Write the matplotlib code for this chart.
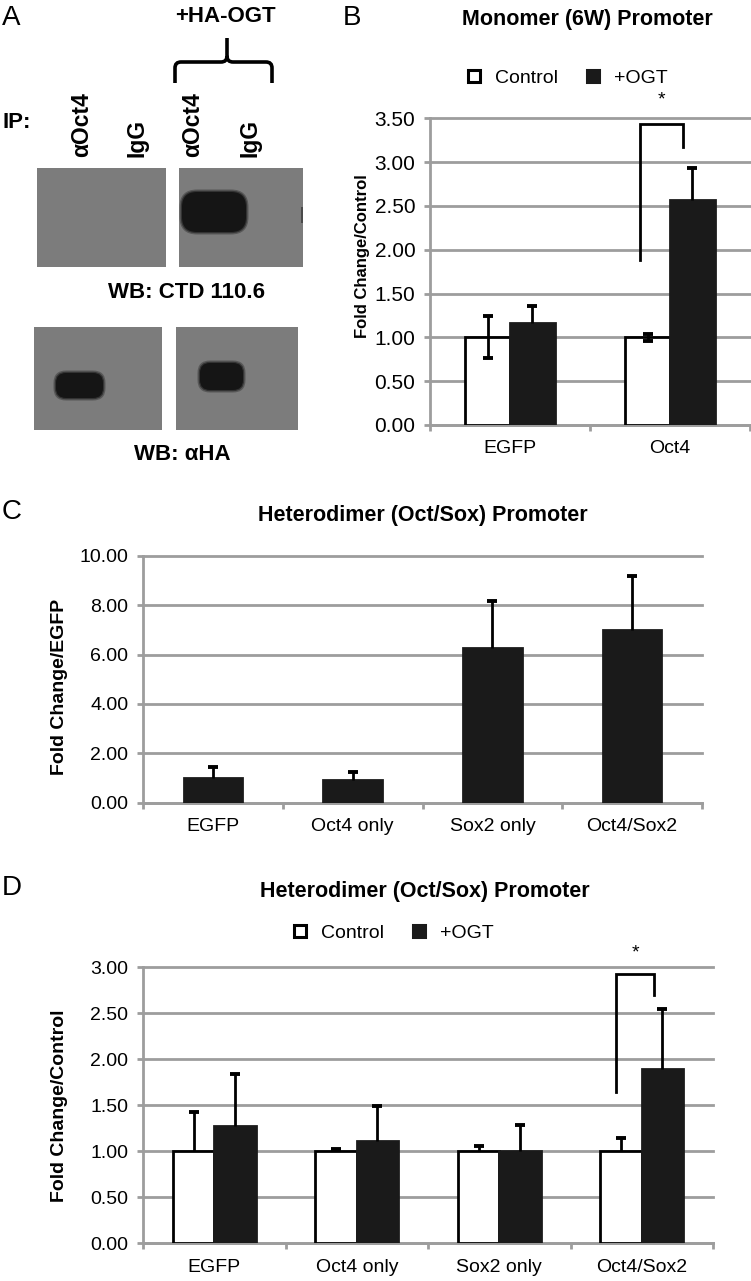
import matplotlib
matplotlib.use('Agg')
import matplotlib.pyplot as plt
import numpy as np
from matplotlib.patches import Rectangle, FancyBboxPatch, PathPatch
from matplotlib.path import Path
from matplotlib.lines import Line2D
from matplotlib.ticker import FormatStrFormatter

plt.rcParams['font.family'] = ['Liberation Sans', 'DejaVu Sans']

# Panel B: Monomer (6W) promoter
b_categories = ['EGFP', 'Oct4']
b_control = [1.00, 1.00]
b_control_err = [0.24, 0.04]
b_ogt = [1.16, 2.57]
b_ogt_err = [0.20, 0.36]

# Panel C: Heterodimer promoter, fold change over EGFP
c_categories = ['EGFP', 'Oct4 only', 'Sox2 only', 'Oct4/Sox2']
c_values = [1.00, 0.93, 6.26, 6.99]
c_err = [0.46, 0.30, 1.91, 2.20]

# Panel D: Heterodimer promoter, control vs +OGT
d_categories = ['EGFP', 'Oct4 only', 'Sox2 only', 'Oct4/Sox2']
d_control = [1.00, 1.00, 1.00, 1.00]
d_control_err = [0.43, 0.02, 0.06, 0.14]
d_ogt = [1.28, 1.11, 1.00, 1.90]
d_ogt_err = [0.56, 0.38, 0.29, 0.65]

W, H = 751, 1281
GRAY = '#9d9d9d'
DARK = '#1a1a1a'

fig = plt.figure(figsize=(W / 100, H / 100), dpi=100)


def px_rect(l, t, r, b):
    return [l / W, 1 - b / H, (r - l) / W, (b - t) / H]


def fx(x):
    return x / W


def fy(y):
    return 1 - y / H


def style_axes(ax, cats, ymax, ystep, tick_fs):
    n = len(cats)
    ax.set_xlim(-0.5, n - 0.5)
    ax.set_ylim(0, ymax)
    ax.set_yticks(np.arange(0, ymax + 1e-9, ystep))
    ax.yaxis.set_major_formatter(FormatStrFormatter('%.2f'))
    ax.set_xticks(range(n))
    ax.set_xticklabels(cats, fontsize=14)
    ax.set_xticks(np.arange(-0.5, n), minor=True)
    ax.tick_params(axis='x', which='major', length=0, pad=11)
    ax.tick_params(axis='x', which='minor', length=4, width=2, color=GRAY, direction='out')
    ax.tick_params(axis='y', length=4.5, width=2, color=GRAY, pad=6, labelsize=tick_fs)
    for s in ['top', 'right']:
        ax.spines[s].set_visible(False)
    for s in ['left', 'bottom']:
        ax.spines[s].set_color(GRAY)
        ax.spines[s].set_linewidth(2)
    ax.yaxis.grid(True, color=GRAY, lw=2)
    ax.set_axisbelow(True)
    for gl in ax.get_ygridlines():
        gl.set_clip_on(False)


def err_bars(ax, x, y, err, down):
    # vertical whisker plus caps; lower half only where it shows
    x = np.asarray(x, dtype=float)
    y = np.asarray(y, dtype=float)
    err = np.asarray(err, dtype=float)
    lo = y - err if down else y
    ax.vlines(x, lo, y + err, colors='black', lw=2, zorder=4)
    ax.plot(x, y + err, ls='none', marker='_', markersize=7, mew=2.8, color='black', zorder=4)
    if down:
        ax.plot(x, y - err, ls='none', marker='_', markersize=7, mew=2.8, color='black',
                zorder=4)


def paired_bars(ax, control, control_err, ogt, ogt_err, w, control_down):
    x = np.arange(len(control))
    ax.bar(x - w / 2, control, w, color='white', edgecolor='black', lw=2, zorder=3)
    ax.bar(x + w / 2, ogt, w, color=DARK, edgecolor=DARK, lw=2, zorder=3)
    err_bars(ax, x - w / 2, control, control_err, control_down)
    err_bars(ax, x + w / 2, ogt, ogt_err, False)


def legend_handles():
    return [Line2D([], [], marker='s', ls='none', markersize=9, markerfacecolor='white',
                   markeredgecolor='black', markeredgewidth=2.2, label='Control'),
            Line2D([], [], marker='s', ls='none', markersize=9, markerfacecolor=DARK,
                   markeredgecolor=DARK, markeredgewidth=2.2, label='+OGT')]


def bracket(ax, xl, xr, ytop, yl, yr, star_y):
    ax.plot([xl, xl, xr, xr], [yl, ytop, ytop, yr], color='black', lw=2,
            clip_on=False, zorder=5, solid_joinstyle='miter')
    ax.text((xl + xr) / 2, star_y, '*', ha='center', va='center', fontsize=14,
            clip_on=False)


# ---------- Panel A: blots ----------
ax_a = fig.add_axes(px_rect(0, 0, 340, 480))
ax_a.set_xlim(0, 340)
ax_a.set_ylim(480, 0)
ax_a.axis('off')

blot_gray = '#7c7c7c'
for (x0, y0, x1, y1) in [(37, 168, 166, 267), (179, 168, 303, 267),
                         (34, 327, 162, 430), (176, 327, 298, 430)]:
    ax_a.add_patch(Rectangle((x0, y0), x1 - x0, y1 - y0, facecolor=blot_gray,
                             edgecolor='none'))


def band(x0, y0, x1, y1, r):
    for grow, a in [(2.5, 0.35), (1.2, 0.55), (0, 1.0)]:
        ax_a.add_patch(FancyBboxPatch((x0 - grow, y0 - grow), x1 - x0 + 2 * grow,
                                      y1 - y0 + 2 * grow,
                                      boxstyle='round,pad=0,rounding_size=%g' % (r + grow),
                                      facecolor='#151515', edgecolor='none', alpha=a))


band(182, 192, 246, 232, 15)
band(56, 373, 103, 398, 10)
band(200, 363, 243, 390, 10)
ax_a.add_patch(Rectangle((301, 207), 2, 16, facecolor='#2a2a2a', edgecolor='none', alpha=0.6))

# brace above the +HA-OGT lanes
verts = [(175, 83), (175, 68), (175, 62), (181, 62), (221, 62), (227, 62), (227, 56),
         (227, 38), (227, 56), (227, 62), (233, 62), (266, 62), (272, 62), (272, 68), (272, 83)]
codes = [Path.MOVETO, Path.LINETO, Path.CURVE3, Path.CURVE3, Path.LINETO, Path.CURVE3,
         Path.CURVE3, Path.LINETO, Path.MOVETO, Path.CURVE3, Path.CURVE3, Path.LINETO,
         Path.CURVE3, Path.CURVE3, Path.LINETO]
ax_a.add_patch(PathPatch(Path(verts, codes), facecolor='none', edgecolor='black', lw=2.6))

ax_a.text(225, 16, '+HA-OGT', ha='center', va='center', fontsize=16, fontweight='bold')
ax_a.text(2, 123, 'IP:', ha='left', va='center', fontsize=16, fontweight='bold')
for xc, lab in [(82, 'αOct4'), (137, 'IgG'), (193, 'αOct4'), (250, 'IgG')]:
    ax_a.text(xc, 157, lab, rotation=90, ha='center', va='bottom', fontsize=16.5,
              fontweight='bold')
ax_a.text(187, 292, 'WB: CTD 110.6', ha='center', va='center', fontsize=16, fontweight='bold')
ax_a.text(182, 455, 'WB: αHA', ha='center', va='center', fontsize=16, fontweight='bold')

# panel letters
for x, y, s in [(2, 18, 'A'), (343, 18, 'B'), (2, 512, 'C'), (2, 888, 'D')]:
    fig.text(fx(x), fy(y), s, ha='left', va='center', fontsize=20)

# ---------- Panel B ----------
ax_b = fig.add_axes(px_rect(430, 118.3, 750, 425))
style_axes(ax_b, b_categories, 3.5, 0.5, 15)
paired_bars(ax_b, b_control, b_control_err, b_ogt, b_ogt_err, 0.28, True)
bracket(ax_b, 0.81, 1.08, 3.43, 1.88, 3.17, 3.71)
fig.text(fx(587), fy(20), 'Monomer (6W) Promoter', ha='center', va='center',
         fontsize=15.5, fontweight='bold')
fig.text(fx(362), fy(256), 'Fold Change/Control', rotation=90, ha='center', va='center',
         fontsize=12, fontweight='bold')
ax_b.legend(handles=legend_handles(), loc='center', bbox_to_anchor=(fx(566), fy(78)),
            bbox_transform=fig.transFigure, ncol=2, frameon=False, fontsize=14,
            handlelength=1.0, handletextpad=0.6, columnspacing=1.3)

# ---------- Panel C ----------
ax_c = fig.add_axes(px_rect(143, 555.7, 702, 802.7))
style_axes(ax_c, c_categories, 10, 2, 14)
xc = np.arange(len(c_values))
ax_c.bar(xc, c_values, 0.42, color=DARK, edgecolor=DARK, lw=2, zorder=3)
err_bars(ax_c, xc, c_values, c_err, False)
fig.text(fx(423), fy(515), 'Heterodimer (Oct/Sox) Promoter', ha='center', va='center',
         fontsize=15.5, fontweight='bold')
fig.text(fx(60), fy(687), 'Fold Change/EGFP', rotation=90, ha='center', va='center',
         fontsize=14, fontweight='bold')

# ---------- Panel D ----------
ax_d = fig.add_axes(px_rect(143, 967.3, 713, 1243.3))
style_axes(ax_d, d_categories, 3.0, 0.5, 14)
paired_bars(ax_d, d_control, d_control_err, d_ogt, d_ogt_err, 0.29, False)
bracket(ax_d, 2.82, 3.086, 2.93, 1.64, 2.70, 3.16)
fig.text(fx(425), fy(892), 'Heterodimer (Oct/Sox) Promoter', ha='center', va='center',
         fontsize=15.5, fontweight='bold')
fig.text(fx(60), fy(1106), 'Fold Change/Control', rotation=90, ha='center', va='center',
         fontsize=14, fontweight='bold')
ax_d.legend(handles=legend_handles(), loc='center', bbox_to_anchor=(fx(392), fy(933)),
            bbox_transform=fig.transFigure, ncol=2, frameon=False, fontsize=14,
            handlelength=1.0, handletextpad=0.6, columnspacing=1.3)

fig.savefig('out.png', dpi=100)
